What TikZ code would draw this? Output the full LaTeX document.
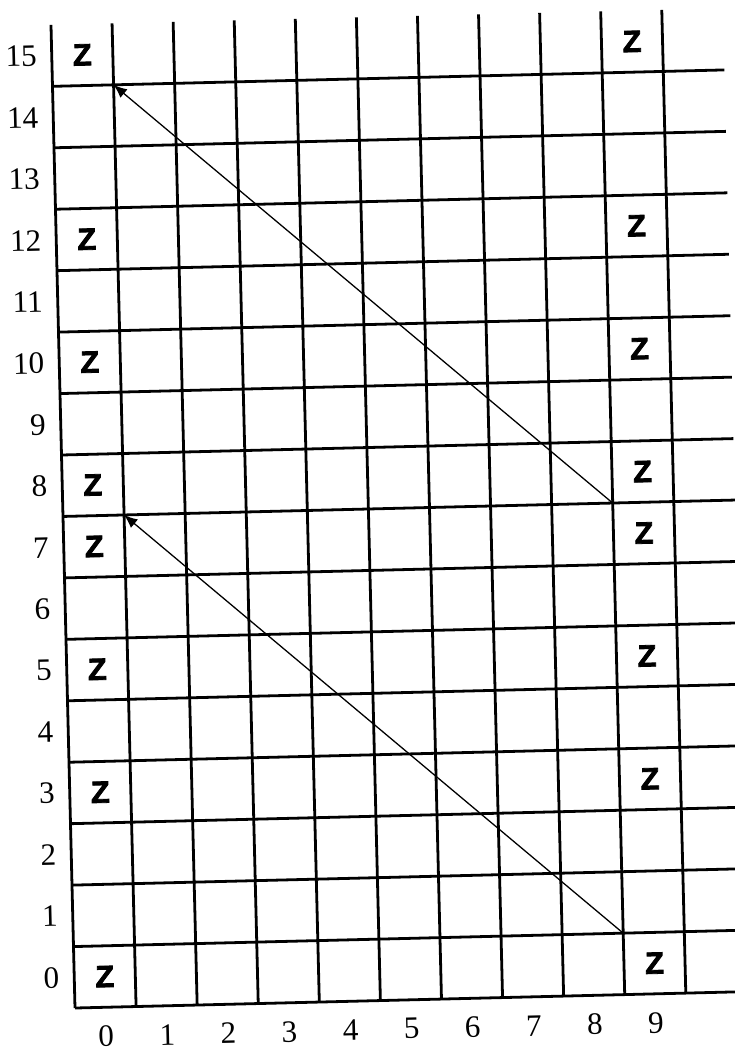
\documentclass[tikz,border=0pt]{standalone}
\usepackage{fontspec}
\setmainfont{Liberation Serif}
\newfontfamily\zfont[FakeBold=2.5]{Liberation Sans Bold}
\usetikzlibrary{arrows.meta}

\begin{document}
\begin{tikzpicture}[gridline/.style={line width=1.3pt, black}, move/.style={-{Latex[length=2.2mm, width=1.8mm]}, line width=0.6pt}, num/.style={font=\fontsize{14.5}{15}\selectfont, inner sep=0pt}, zmark/.style={font=\zfont\fontsize{14.3}{14}\selectfont, inner sep=0pt}]
        \useasboundingbox (-1.2275,-0.687) rectangle (10.80,16.498);
        \begin{scope}[rotate=1.4, x=1cm, y=1.006cm, transform shape]
        % grid
        \foreach \i in {0,...,10} \draw[gridline] (\i,0) -- (\i,16);
        \foreach \j in {0,...,15} \draw[gridline] (0,\j) -- (11,\j);
        % axis numbers
        \foreach \j in {0,...,15} \node[num, anchor=east] (row\j) at (-0.24,\j+0.5) {\j};
        \foreach \i in {0,...,9} \node[num] (col\i) at (\i+0.5,-0.47) {\i};
        % Z marks
        \foreach \j in {0,3,5,7,8,10,12,15} {
            \node[zmark] (zleft\j) at (0.5,\j+0.5) {Z};
            \node[zmark] (zright\j) at (9.5,\j+0.5) {Z};
        }
        % moves
        \coordinate (startA) at (9,8);
        \coordinate (endA) at (1,15);
        \coordinate (startB) at (9,1);
        \coordinate (endB) at (1,8);
        \draw[move] (startA) -- (endA);
        \draw[move] (startB) -- (endB);
        \end{scope}
    \end{tikzpicture}
\end{document}
